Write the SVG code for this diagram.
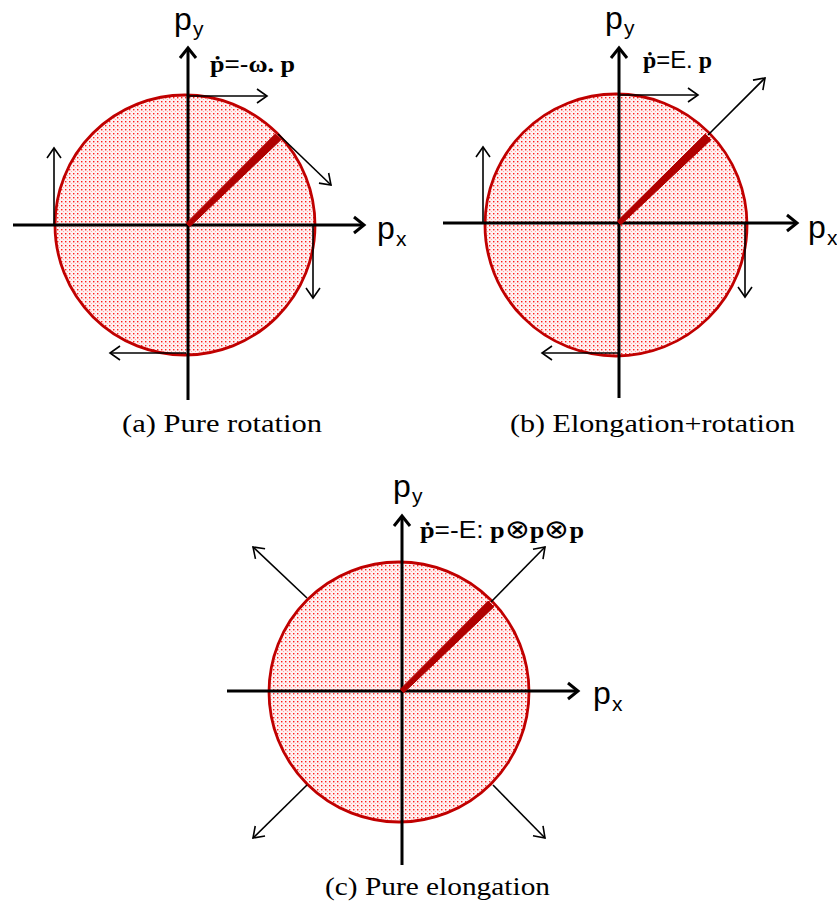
<svg xmlns="http://www.w3.org/2000/svg" width="837" height="907" viewBox="0 0 837 907">
<defs>
<pattern id="dots" width="4" height="4" patternUnits="userSpaceOnUse">
<rect width="4" height="4" fill="#fff2f2"/>
<rect x="1" y="1" width="1.4" height="1.4" fill="#ff1a1a"/>
<rect x="3" y="3" width="0.8" height="0.8" fill="#ff8080"/>
</pattern>
<marker id="axhead" markerUnits="userSpaceOnUse" markerWidth="24" markerHeight="24" refX="12" refY="9" viewBox="0 0 24 18" orient="auto" overflow="visible">
<path d="M2,1 L12,9 L2,17" fill="none" stroke="#000" stroke-width="3"/>
</marker>
<marker id="head" markerUnits="userSpaceOnUse" markerWidth="20" markerHeight="20" refX="11" refY="8" viewBox="0 0 20 16" orient="auto" overflow="visible">
<path d="M1,1 L11,8 L1,15" fill="none" stroke="#000" stroke-width="1.6"/>
</marker>
</defs>
<style>
.circ{fill:url(#dots);stroke:#c00000;stroke-width:2.8}
.rod{fill:#b00000;stroke:#b00000;stroke-width:1}
.axis{stroke:#000;stroke-width:3;fill:none;marker-end:url(#axhead)}
.arr{stroke:#000;stroke-width:1.6;fill:none;marker-end:url(#head)}
.lbl{font-family:"Liberation Sans",Arial,sans-serif;fill:#000}
.eq{font-family:"Liberation Serif","Times New Roman",serif;font-weight:bold;fill:#000}
.eqs{font-family:"Liberation Sans",Arial,sans-serif;font-weight:normal}
.cap{font-family:"Liberation Serif","Times New Roman",serif;font-size:25px;fill:#000}
</style>

<!-- Panel (a) -->
<g id="panel-a">
<g id="a-circle"><circle cx="185" cy="225" r="130" class="circ"/></g>
<g id="a-axes">
<line x1="188" y1="400" x2="188" y2="48" class="axis"/>
<line x1="13" y1="225" x2="364" y2="225" class="axis"/>
</g>
<g id="a-rod"><polygon points="189.7,226.8 186.3,223.2 275.2,134.1 280.8,139.9" class="rod"/></g>
<g id="a-arrows">
<line x1="188" y1="96" x2="267" y2="96" class="arr"/>
<line x1="54" y1="224" x2="54" y2="148" class="arr"/>
<line x1="313" y1="226" x2="313" y2="298" class="arr"/>
<line x1="186" y1="353" x2="110" y2="353" class="arr"/>
<line x1="278" y1="134" x2="331" y2="185" class="arr"/>
</g>
<g id="a-labels">
<text x="174" y="30" class="lbl" font-size="32">p</text>
<text x="193" y="36" class="lbl" font-size="21">y</text>
<text x="377" y="239" class="lbl" font-size="32">p</text>
<text x="396" y="246" class="lbl" font-size="21">x</text>
<text x="210" y="72" class="eq" font-size="23" textLength="85" lengthAdjust="spacingAndGlyphs">ṗ<tspan class="eqs">=-</tspan>ω. p</text>
<text x="122" y="432" class="cap" textLength="200" lengthAdjust="spacingAndGlyphs">(a) Pure rotation</text>
</g>
</g>

<!-- Panel (b) -->
<g id="panel-b">
<g id="b-circle"><circle cx="616" cy="225" r="131" class="circ"/></g>
<g id="b-axes">
<line x1="619" y1="398" x2="619" y2="48" class="axis"/>
<line x1="443" y1="223" x2="797" y2="223" class="axis"/>
</g>
<g id="b-rod"><polygon points="620.7,224.8 617.3,221.2 705.2,134.1 710.8,139.9" class="rod"/></g>
<g id="b-arrows">
<line x1="619" y1="95" x2="698" y2="95" class="arr"/>
<line x1="483" y1="222" x2="483" y2="147" class="arr"/>
<line x1="745" y1="224" x2="745" y2="297" class="arr"/>
<line x1="618" y1="353" x2="542" y2="353" class="arr"/>
<line x1="708" y1="135" x2="765" y2="78" class="arr"/>
</g>
<g id="b-labels">
<text x="605" y="29" class="lbl" font-size="32">p</text>
<text x="624" y="35" class="lbl" font-size="21">y</text>
<text x="808" y="238" class="lbl" font-size="32">p</text>
<text x="827" y="245" class="lbl" font-size="21">x</text>
<text x="643" y="68" class="eq" font-size="23" textLength="69" lengthAdjust="spacingAndGlyphs">ṗ<tspan class="eqs">=E.</tspan> p</text>
<text x="510" y="432" class="cap" textLength="285" lengthAdjust="spacingAndGlyphs">(b) Elongation+rotation</text>
</g>
</g>

<!-- Panel (c) -->
<g id="panel-c">
<g id="c-circle"><circle cx="399" cy="692" r="130" class="circ"/></g>
<g id="c-axes">
<line x1="402" y1="865" x2="402" y2="516" class="axis"/>
<line x1="227" y1="691" x2="578" y2="691" class="axis"/>
</g>
<g id="c-rod"><polygon points="403.7,692.8 400.3,689.2 488.2,601.1 493.8,606.9" class="rod"/></g>
<g id="c-arrows">
<line x1="491" y1="602" x2="545" y2="547" class="arr"/>
<line x1="307" y1="598" x2="253" y2="547" class="arr"/>
<line x1="307" y1="785" x2="253" y2="838" class="arr"/>
<line x1="493" y1="785" x2="545" y2="838" class="arr"/>
</g>
<g id="c-labels">
<text x="393" y="497" class="lbl" font-size="32">p</text>
<text x="412" y="503" class="lbl" font-size="21">y</text>
<text x="593" y="704" class="lbl" font-size="32">p</text>
<text x="612" y="711" class="lbl" font-size="21">x</text>
<text x="420" y="538" class="eq" font-size="23" textLength="164" lengthAdjust="spacingAndGlyphs">ṗ<tspan class="eqs">=-E:</tspan> p<tspan font-weight="normal" font-size="26">⊗</tspan>p<tspan font-weight="normal" font-size="26">⊗</tspan>p</text>
<text x="325" y="895" class="cap" textLength="225" lengthAdjust="spacingAndGlyphs">(c) Pure elongation</text>
</g>
</g>
</svg>
